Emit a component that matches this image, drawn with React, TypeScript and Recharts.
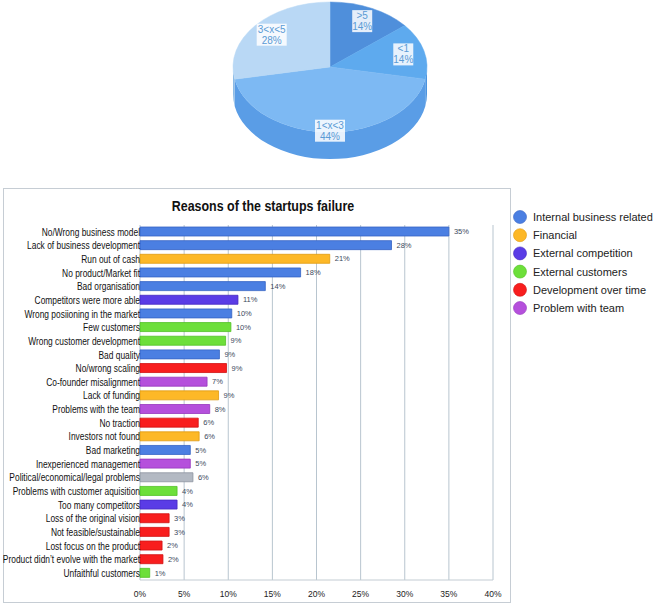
import React from "react";
import { PieChart, Pie, Cell, BarChart, Bar, XAxis, YAxis, CartesianGrid, LabelList } from "recharts";

// ---------- Pie data ----------
const pieNames = [">5", "<1", "1<x<3", "3<x<5"];
const pieValues = [14, 14, 44, 28];
const pieTopColors = ["#4f8fdb", "#5eaaee", "#7db9f3", "#b9d8f5"];
const pieSideColors = ["#3f7ccb", "#4a93df", "#5a9de6", "#8dbbe6"];

// ---------- Bar data ----------
const reasons = [
  "No/Wrong business model",
  "Lack of business development",
  "Run out of cash",
  "No product/Market fit",
  "Bad organisation",
  "Competitors were more able",
  "Wrong posiioning in the market",
  "Few customers",
  "Wrong customer development",
  "Bad quality",
  "No/wrong scaling",
  "Co-founder misalignment",
  "Lack of funding",
  "Problems with the team",
  "No traction",
  "Investors not found",
  "Bad marketing",
  "Inexperienced management",
  "Political/economical/legal problems",
  "Problems with customer aquisition",
  "Too many competitors",
  "Loss of the original vision",
  "Not feasible/sustainable",
  "Lost focus on the product",
  "Product didn\u2019t evolve with the market",
  "Unfaithful customers",
];
const reasonValues = [35, 28.5, 21.5, 18.2, 14.2, 11.1, 10.4, 10.3, 9.7, 9.0, 9.8, 7.6, 8.9, 7.9, 6.6, 6.7, 5.7, 5.7, 6.0, 4.2, 4.2, 3.3, 3.3, 2.5, 2.6, 1.1];
const reasonLabels = ["35%", "28%", "21%", "18%", "14%", "11%", "10%", "10%", "9%", "9%", "9%", "7%", "9%", "8%", "6%", "6%", "5%", "5%", "6%", "4%", "4%", "3%", "3%", "2%", "2%", "1%"];
const reasonGroups = [0, 0, 1, 0, 0, 2, 0, 3, 3, 0, 4, 5, 1, 5, 4, 1, 0, 5, 6, 3, 2, 4, 4, 4, 4, 3];

const groupNames = [
  "Internal business related",
  "Financial",
  "External competition",
  "External customers",
  "Development over time",
  "Problem with team",
];
const groupColors = ["#4b7fe2", "#fdb827", "#5a3ce6", "#6ddf3a", "#f81e1e", "#b550dc", "#b3b9c3"];
const groupStrokes = ["#3563c4", "#e09a10", "#4428c0", "#52c024", "#d01010", "#9636bd", "#8d949f"];

const xTicks = [0, 5, 10, 15, 20, 25, 30, 35, 40];

const pieRows = pieNames.map((n, i) => ({ name: n, value: pieValues[i], side: pieSideColors[i] }));
const barRows = reasons.map((n, i) => ({ name: n, value: reasonValues[i], label: reasonLabels[i], group: reasonGroups[i] }));

const RAD = Math.PI / 180;
const RATIO = 0.67;
const DEPTH = 27;
const SANS = "'Liberation Sans', Arial, sans-serif";

function pt(cx: number, cy: number, rx: number, ry: number, a: number, dy = 0) {
  return [cx + rx * Math.cos(a * RAD), cy + dy - ry * Math.sin(a * RAD)];
}

function PieSlice(props: any) {
  const { cx, cy, outerRadius, startAngle, endAngle, fill, payload } = props;
  const rx = outerRadius;
  const ry = outerRadius * RATIO;
  const a1 = Math.max(startAngle, endAngle);
  const a2 = Math.min(startAngle, endAngle);
  const p1 = pt(cx, cy, rx, ry, a1);
  const p2 = pt(cx, cy, rx, ry, a2);
  const large = a1 - a2 > 180 ? 1 : 0;
  const top = `M${cx},${cy} L${p1[0]},${p1[1]} A${rx},${ry} 0 ${large} 1 ${p2[0]},${p2[1]} Z`;
  const s1 = Math.min(a1, 0);
  const s2 = Math.max(a2, -180);
  let side: string | null = null;
  if (s1 > s2) {
    const q1 = pt(cx, cy, rx, ry, s1);
    const q2 = pt(cx, cy, rx, ry, s2);
    const q3 = pt(cx, cy, rx, ry, s2, DEPTH);
    const q4 = pt(cx, cy, rx, ry, s1, DEPTH);
    side = `M${q1[0]},${q1[1]} A${rx},${ry} 0 0 1 ${q2[0]},${q2[1]} L${q3[0]},${q3[1]} A${rx},${ry} 0 0 0 ${q4[0]},${q4[1]} Z`;
  }
  const sideFill = (payload && (payload.side || (payload.payload && payload.payload.side))) || fill;
  return (
    <g>
      {side && <path d={side} fill={sideFill} stroke="none" />}
      <path d={top} fill={fill} stroke={fill} strokeWidth={0.5} />
    </g>
  );
}

function PieLabel(props: any) {
  const { cx, cy, midAngle, outerRadius, index } = props;
  const s = Math.sin(-midAngle * RAD);
  const f = 0.78 + (s > 0 ? 0.2 * s : 0);
  const x = cx + outerRadius * f * Math.cos(midAngle * RAD);
  const y = cy - outerRadius * RATIO * f * Math.sin(midAngle * RAD);
  const name = pieNames[index];
  const val = pieValues[index] + "%";
  const w = Math.max(name.length, val.length) * 5 + 5;
  return (
    <g>
      <rect x={x - w / 2} y={y - 11} width={w} height={22} fill="#ffffff" fillOpacity={0.85} />
      <text x={x} y={y - 2} textAnchor="middle" fontSize={10} fontFamily={SANS} fill="#5b9bd5">{name}</text>
      <text x={x} y={y + 9} textAnchor="middle" fontSize={10} fontFamily={SANS} fill="#5b9bd5">{val}</text>
    </g>
  );
}

function YTick(props: any) {
  const { x, y, payload } = props;
  return (
    <g transform={`translate(${x},${y})`}>
      <text x={0} y={0} dy={3.8} textAnchor="end" fontSize={10.5} fontFamily={SANS} fill="#111" transform="scale(0.8,1)">
        {payload.value}
      </text>
    </g>
  );
}

export default function App() {
  return (
    <div style={{ position: "absolute", left: 0, top: 0, width: 656, height: 606, background: "#fff", overflow: "hidden" }}>
      <div style={{ position: "absolute", left: 0, top: 0 }}>
        <PieChart width={656} height={185} margin={{ top: 0, right: 0, bottom: 0, left: 0 }}>
          <Pie
            data={pieRows}
            dataKey="value"
            nameKey="name"
            cx={330}
            cy={67}
            outerRadius={97}
            startAngle={90}
            endAngle={-270}
            isAnimationActive={false}
            label={PieLabel}
            labelLine={false}
            shape={PieSlice}
            activeShape={PieSlice}
            inactiveShape={PieSlice}
          >
            {pieRows.map((r, i) => (
              <Cell key={r.name} fill={pieTopColors[i]} />
            ))}
          </Pie>
        </PieChart>
      </div>

      <div
        style={{
          position: "absolute",
          left: 3,
          top: 188,
          width: 508,
          height: 415,
          border: "1px solid #c6cdd4",
          boxSizing: "border-box",
        }}
      />
      <svg style={{ position: "absolute", left: 0, top: 190 }} width={520} height={30}>
        <g transform="translate(263,21) scale(0.83,1)">
          <text x={0} y={0} textAnchor="middle" fontFamily={SANS} fontWeight="bold" fontSize={15} fill="#111">
            Reasons of the startups failure
          </text>
        </g>
      </svg>
      <div style={{ position: "absolute", left: 3, top: 188 }}>
        <BarChart
          width={508}
          height={415}
          data={barRows}
          layout="vertical"
          margin={{ top: 37, right: 18, bottom: 3, left: 0 }}
          barSize={9}
        >
          <CartesianGrid horizontal={false} vertical={true} stroke="#b8c5cf" />
          <XAxis
            type="number"
            domain={[0, 40]}
            ticks={xTicks}
            tickFormatter={(v: number) => v + "%"}
            axisLine={{ stroke: "#c3ccd3" }}
            tickLine={false}
            tickMargin={5}
            height={20}
            tick={{ fontSize: 8.5, fill: "#222", fontFamily: SANS }}
          />
          <YAxis
            type="category"
            dataKey="name"
            width={137}
            tickLine={false}
            axisLine={false}
            tickSize={0}
            tickMargin={0}
            interval={0}
            tick={<YTick />}
          />
          <Bar dataKey="value" isAnimationActive={false} strokeWidth={0.8}>
            {barRows.map((r, i) => (
              <Cell key={i} fill={groupColors[r.group]} stroke={groupStrokes[r.group]} />
            ))}
            <LabelList dataKey="label" position="right" offset={5} fontSize={7.5} fill="#3c4a5c" fontFamily={SANS} />
          </Bar>
        </BarChart>
      </div>

      <svg style={{ position: "absolute", left: 505, top: 205 }} width={151} height={115}>
        {groupNames.map((g, i) => (
          <g key={g}>
            <circle cx={15} cy={12 + i * 18.2} r={6.5} fill={groupColors[i]} stroke={groupStrokes[i]} strokeWidth={0.6} />
            <text x={28} y={16 + i * 18.2} fontSize={11} fontFamily={SANS} fill="#222">{g}</text>
          </g>
        ))}
      </svg>
    </div>
  );
}
